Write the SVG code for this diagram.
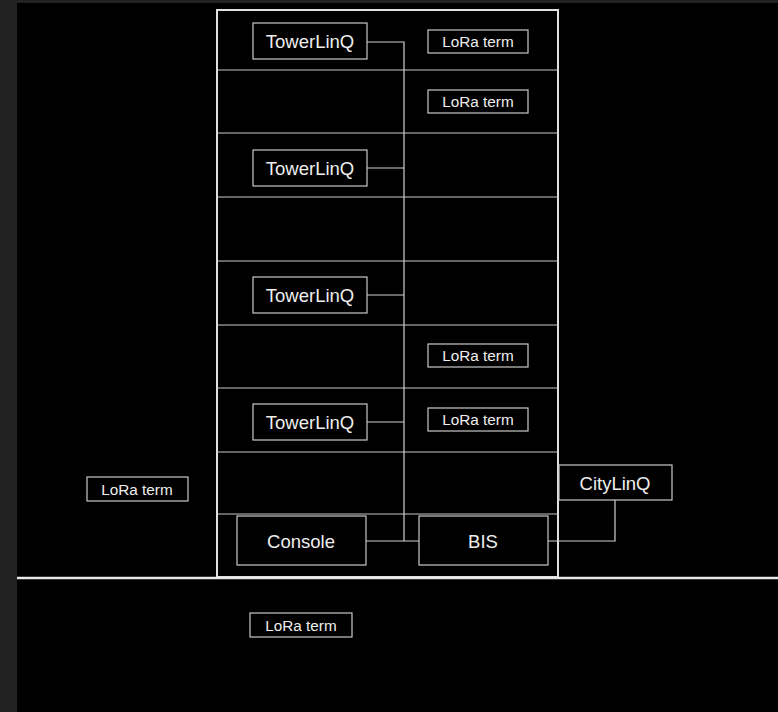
<svg xmlns="http://www.w3.org/2000/svg" width="778" height="712" viewBox="0 0 778 712">
<style>
.box{fill:#000;stroke:#c8c8c8;stroke-width:1.2}
.wall{fill:none;stroke:#e0e0e0;stroke-width:2}
.floor{stroke:#c8c8c8;stroke-width:1.2}
.conn{fill:none;stroke:#d0d0d0;stroke-width:1.2}
text{font-family:"Liberation Sans",Arial,sans-serif;fill:#eeeeee;text-anchor:middle}
.t16{font-size:18.5px}
.t14{font-size:15.3px}
</style>
<rect x="0" y="0" width="778" height="712" fill="#222222"/>
<rect x="17" y="3" width="761" height="709" fill="#000000"/>
<g id="building">
<rect class="wall" x="217" y="10" width="341" height="567"/>
<line class="floor" x1="217" y1="70" x2="558" y2="70"/>
<line class="floor" x1="217" y1="133" x2="558" y2="133"/>
<line class="floor" x1="217" y1="197" x2="558" y2="197"/>
<line class="floor" x1="217" y1="261" x2="558" y2="261"/>
<line class="floor" x1="217" y1="325" x2="558" y2="325"/>
<line class="floor" x1="217" y1="388" x2="558" y2="388"/>
<line class="floor" x1="217" y1="452" x2="558" y2="452"/>
<line class="floor" x1="217" y1="514" x2="558" y2="514"/>
</g>
<g id="ground"><line x1="17" y1="578" x2="778" y2="578" stroke="#e8e8e8" stroke-width="2.5"/></g>
<g id="connectors">
<polyline class="conn" points="367,42 404,42 404,541"/>
<line class="conn" x1="367" y1="168" x2="404" y2="168"/>
<line class="conn" x1="367" y1="295" x2="404" y2="295"/>
<line class="conn" x1="367" y1="422" x2="404" y2="422"/>
<line class="conn" x1="366" y1="541" x2="419" y2="541"/>
<polyline class="conn" points="548,541 615,541 615,500"/>
</g>
<g id="towerlinq1"><rect class="box" x="253" y="23" width="114" height="36"/><text class="t16" x="310" y="48">TowerLinQ</text></g>
<g id="towerlinq2"><rect class="box" x="253" y="150" width="114" height="36"/><text class="t16" x="310" y="175">TowerLinQ</text></g>
<g id="towerlinq3"><rect class="box" x="253" y="277" width="114" height="36"/><text class="t16" x="310" y="302">TowerLinQ</text></g>
<g id="towerlinq4"><rect class="box" x="253" y="404" width="114" height="36"/><text class="t16" x="310" y="429">TowerLinQ</text></g>
<g id="lora1"><rect class="box" x="428" y="30" width="100" height="23"/><text class="t14" x="478" y="47">LoRa term</text></g>
<g id="lora2"><rect class="box" x="428" y="90" width="100" height="23"/><text class="t14" x="478" y="107">LoRa term</text></g>
<g id="lora3"><rect class="box" x="428" y="344" width="100" height="23"/><text class="t14" x="478" y="361">LoRa term</text></g>
<g id="lora4"><rect class="box" x="428" y="408" width="100" height="23"/><text class="t14" x="478" y="425">LoRa term</text></g>
<g id="lora5"><rect class="box" x="87" y="477" width="101" height="24"/><text class="t14" x="137" y="495">LoRa term</text></g>
<g id="lora6"><rect class="box" x="250" y="613" width="102" height="24"/><text class="t14" x="301" y="631">LoRa term</text></g>
<g id="console"><rect class="box" x="237" y="516" width="129" height="49"/><text class="t16" x="301" y="548">Console</text></g>
<g id="bis"><rect class="box" x="419" y="516" width="129" height="49"/><text class="t16" x="483" y="548">BIS</text></g>
<g id="citylinq"><rect class="box" x="559" y="465" width="113" height="35"/><text class="t16" x="615" y="490">CityLinQ</text></g>
</svg>
